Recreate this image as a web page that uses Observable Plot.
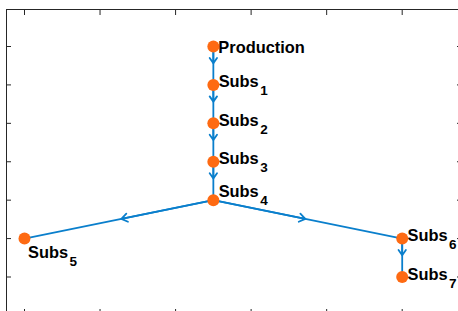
<!DOCTYPE html>
<html><head><meta charset="utf-8">
<script src="https://cdn.jsdelivr.net/npm/d3@7"></script>
<script src="https://cdn.jsdelivr.net/npm/@observablehq/plot@0.6"></script>
<style>html,body{margin:0;padding:0;background:#fff;} svg{display:block}</style>
</head><body><div id="chart"></div>
<script>
// Graph data (MATLAB layered digraph)
const nodeNames = ["Production","Subs","Subs","Subs","Subs","Subs","Subs","Subs"];
const nodeSubscripts = ["","1","2","3","4","5","6","7"];
const nodeX = [3.5,3.5,3.5,3.5,3.5,1,6,6];
const nodeY = [7,6,5,4,3,2,2,1];
const edgeSource = [0,1,2,3,4,4,6];
const edgeTarget = [1,2,3,4,5,6,7];
const xTicks = [1,2,3,4,5,6];
const yTicks = [1,2,3,4,5,6,7];

const nodes = nodeNames.map((name,i)=>({id:i, name, sub:nodeSubscripts[i], x:nodeX[i], y:nodeY[i]}));
const edges = edgeSource.map((s,i)=>({s, t:edgeTarget[i]}));

const edgeColor = "#0a7fcc";
const nodeColor = "#fe6a12";
const axisColor = "#262626";
const font = "'Liberation Sans', Arial, Helvetica, sans-serif";

function labels(filter, dx, dy) {
  const data = nodes.filter(filter);
  return [
    Plot.text(data, {x:"x", y:"y", text:"name", textAnchor:"start", lineAnchor:"bottom",
      dx, dy, fontSize:16.4, fontWeight:"bold", fill:"#000", fontFamily:font}),
    Plot.text(data.filter(d=>d.sub), {x:"x", y:"y", text:"sub", textAnchor:"start", lineAnchor:"bottom",
      dx: dx + 41.5, dy: dy + 8, fontSize:13.5, fontWeight:"bold", fill:"#000", fontFamily:font})
  ];
}

const chart = Plot.plot({
  width: 458,
  height: 311,
  marginLeft: 6,
  marginTop: 9,
  marginRight: -3,
  marginBottom: -3,
  style: {background:"#fff", overflow:"hidden"},
  x: {domain:[1,6], range:[24, 401.7], axis:null},
  y: {domain:[1,7], range:[276.5, 46], axis:null},
  marks: [
    Plot.frame({stroke:axisColor, strokeWidth:1}),
    Plot.axisX(xTicks, {anchor:"top", tickSize:5, dy:5, tickFormat:()=>"", label:null, stroke:axisColor}),
    Plot.axisX(xTicks, {anchor:"bottom", tickSize:5, dy:-5, tickFormat:()=>"", label:null, stroke:axisColor}),
    Plot.axisY(yTicks, {anchor:"left", tickSize:5, dx:5, tickFormat:()=>"", label:null, stroke:axisColor}),
    Plot.axisY(yTicks, {anchor:"right", tickSize:5, dx:-5, tickFormat:()=>"", label:null, stroke:axisColor}),
    Plot.link(edges, {
      x1: d=>nodeX[d.s], y1: d=>nodeY[d.s], x2: d=>nodeX[d.t], y2: d=>nodeY[d.t],
      stroke: edgeColor, strokeWidth: 1.8
    }),
    Plot.arrow(edges, {
      x1: d=>nodeX[d.s], y1: d=>nodeY[d.s],
      x2: d=>(nodeX[d.s]+nodeX[d.t])/2, y2: d=>(nodeY[d.s]+nodeY[d.t])/2,
      stroke: edgeColor, strokeWidth: 1.8, headLength: 6, headAngle: 70, insetEnd: 2.5
    }),
    Plot.dot(nodes, {x:"x", y:"y", r:6, fill:nodeColor, stroke:null}),
    ...labels(d=>d.id===0, 5, 6.4),
    ...labels(d=>d.id>0 && d.id!==4 && d.id!==5, 5.3, 2.5),
    ...labels(d=>d.id===4, 5.3, -3),
    ...labels(d=>d.id===5, 3.5, 19)
  ]
});
document.getElementById("chart").appendChild(chart);
</script>
</body></html>
